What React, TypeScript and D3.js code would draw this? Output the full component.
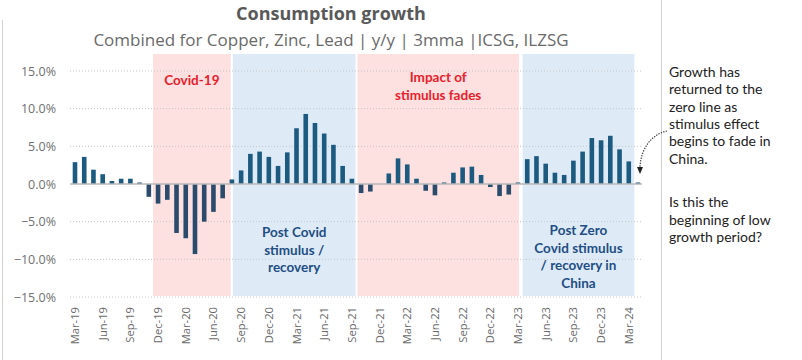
import { useEffect, useRef } from "react";
import * as d3 from "d3";

// monthly consumption growth, y/y %, 3mma
const months = [
  "Mar-19", "Apr-19", "May-19", "Jun-19", "Jul-19", "Aug-19", "Sep-19", "Oct-19", "Nov-19", "Dec-19",
  "Jan-20", "Feb-20", "Mar-20", "Apr-20", "May-20", "Jun-20", "Jul-20", "Aug-20", "Sep-20", "Oct-20",
  "Nov-20", "Dec-20", "Jan-21", "Feb-21", "Mar-21", "Apr-21", "May-21", "Jun-21", "Jul-21", "Aug-21",
  "Sep-21", "Oct-21", "Nov-21", "Dec-21", "Jan-22", "Feb-22", "Mar-22", "Apr-22", "May-22", "Jun-22",
  "Jul-22", "Aug-22", "Sep-22", "Oct-22", "Nov-22", "Dec-22", "Jan-23", "Feb-23", "Mar-23", "Apr-23",
  "May-23", "Jun-23", "Jul-23", "Aug-23", "Sep-23", "Oct-23", "Nov-23", "Dec-23", "Jan-24", "Feb-24",
  "Mar-24", "Apr-24",
];

const growth = [
  2.9, 3.6, 1.9, 1.3, 0.4, 0.7, 0.7, 0.2, -1.7, -2.6,
  -2.1, -6.5, -7.2, -9.3, -5.0, -3.7, -1.9, 0.6, 1.8, 4.0,
  4.3, 3.6, 2.4, 4.2, 7.4, 9.3, 8.1, 6.7, 5.2, 2.4,
  0.7, -1.2, -1.0, 0.0, 1.4, 3.4, 2.6, 0.7, -0.9, -1.5,
  0.2, 1.5, 2.2, 2.3, 1.2, -0.4, -1.6, -1.4, 0.2, 3.3,
  3.7, 2.7, 1.5, 1.2, 3.1, 4.3, 6.1, 5.8, 6.4, 4.6,
  3.0, 0.2,
];

const tickLabels = [
  "Mar-19", "Jun-19", "Sep-19", "Dec-19", "Mar-20", "Jun-20", "Sep-20", "Dec-20", "Mar-21",
  "Jun-21", "Sep-21", "Dec-21", "Mar-22", "Jun-22", "Sep-22", "Dec-22", "Mar-23", "Jun-23",
  "Sep-23", "Dec-23", "Mar-24",
];

const yTicks = [-15, -10, -5, 0, 5, 10, 15];

// shaded periods, in month-index units
const periodKinds = ["covid", "recovery", "fade", "china"];
const periodFrom = [8.45, 17.1, 30.6, 48.5];
const periodTo = [16.87, 30.4, 48.1, 60.6];
const periodLabels = [
  ["Covid-19"],
  ["Post Covid", "stimulus /", "recovery"],
  ["Impact of", "stimulus fades"],
  ["Post Zero", "Covid stimulus", "/ recovery in", "China"],
];

const noteLines = [
  "Growth has", "returned to the", "zero line as", "stimulus effect",
  "begins to fade in", "China.",
];
const noteLines2 = ["Is this the", "beginning of low", "growth period?"];

const W = 802;
const H = 360;

export default function App() {
  const svgRef = useRef<SVGSVGElement>(null);

  useEffect(() => {
    if (!svgRef.current) return;
    const svg = d3.select(svgRef.current);
    svg.selectAll("*").remove();

    const gridL = 70;
    const gridR = 642;

    const xi = d3.scaleLinear().domain([0, months.length - 1]).range([75, 638]);
    const x = d3.scalePoint<string>().domain(months).range([75, 638]);
    const y = d3.scaleLinear().domain([-15, 15]).range([297, 71]);
    const barW = 4.6;

    const fill: Record<string, string> = {
      covid: "#fde0e0",
      fade: "#fde0e0",
      recovery: "#deebf7",
      china: "#deebf7",
    };

    // shaded bands
    periodKinds.forEach((k, i) => {
      svg
        .append("rect")
        .attr("x", xi(periodFrom[i]))
        .attr("width", xi(periodTo[i]) - xi(periodFrom[i]))
        .attr("y", y(15) - 17)
        .attr("height", y(-15) - y(15) + 16)
        .attr("fill", fill[k]);
    });

    // grid
    svg
      .append("g")
      .selectAll("line")
      .data(yTicks.filter((d) => d !== 0))
      .enter()
      .append("line")
      .attr("x1", gridL)
      .attr("x2", gridR)
      .attr("y1", (d) => y(d))
      .attr("y2", (d) => y(d))
      .attr("stroke", "#c4c4c4")
      .attr("stroke-width", 1)
      .attr("stroke-dasharray", "1,2");

    // y labels
    svg
      .append("g")
      .selectAll("text")
      .data(yTicks)
      .enter()
      .append("text")
      .attr("x", 56)
      .attr("y", (d) => y(d) + 4.5)
      .attr("text-anchor", "end")
      .attr("font-family", "'Open Sans', sans-serif")
      .attr("font-size", 12.5)
      .attr("fill", "#707070")
      .text((d) => d3.format(".1f")(d) + "%");

    // bars
    svg
      .append("g")
      .selectAll("rect")
      .data(growth)
      .enter()
      .append("rect")
      .attr("x", (_, i) => (x(months[i]) ?? 0) - barW / 2)
      .attr("width", barW)
      .attr("y", (d) => y(Math.max(0, d)))
      .attr("height", (d) => Math.abs(y(d) - y(0)))
      .attr("fill", (d) => (d >= 0 ? "#1c5a80" : "#2a4b6b"));

    // zero line
    svg
      .append("line")
      .attr("x1", gridL)
      .attr("x2", gridR)
      .attr("y1", y(0))
      .attr("y2", y(0))
      .attr("stroke", "#b8b8b8")
      .attr("stroke-width", 1.5);

    // x labels
    svg
      .append("g")
      .selectAll("text")
      .data(tickLabels)
      .enter()
      .append("text")
      .attr("transform", (d) => `translate(${(x(d) ?? 0) + 4},307) rotate(-90)`)
      .attr("text-anchor", "end")
      .attr("font-family", "'Open Sans', sans-serif")
      .attr("font-size", 11.2)
      .attr("fill", "#6a6a6a")
      .text((d) => d);

    // period labels
    const labelStyle: Record<string, { color: string; y0: number }> = {
      covid: { color: "#e8202a", y0: 85 },
      fade: { color: "#e8202a", y0: 82 },
      recovery: { color: "#1f4e84", y0: 237 },
      china: { color: "#1f4e84", y0: 235 },
    };
    periodKinds.forEach((k, i) => {
      const cx = (xi(periodFrom[i]) + xi(periodTo[i])) / 2;
      const t = svg
        .append("text")
        .attr("text-anchor", "middle")
        .attr("font-family", "Lato, sans-serif")
        .attr("font-weight", "bold")
        .attr("font-size", 13.5)
        .attr("fill", labelStyle[k].color);
      periodLabels[i].forEach((line, j) => {
        t.append("tspan")
          .attr("x", cx)
          .attr("y", labelStyle[k].y0 + j * 17.6)
          .text(line);
      });
    });

    // title
    svg
      .append("text")
      .attr("x", 331)
      .attr("y", 19.5)
      .attr("text-anchor", "middle")
      .attr("font-family", "'Open Sans', sans-serif")
      .attr("font-weight", "bold")
      .attr("font-size", 18)
      .attr("fill", "#595959")
      .text("Consumption growth");

    svg
      .append("text")
      .attr("x", 331)
      .attr("y", 46)
      .attr("text-anchor", "middle")
      .attr("font-family", "'Open Sans', sans-serif")
      .attr("font-size", 17)
      .attr("fill", "#6a6a6a")
      .text("Combined for Copper, Zinc, Lead | y/y | 3mma |ICSG, ILZSG");

    // side frame lines
    svg
      .append("line")
      .attr("x1", 2.5)
      .attr("x2", 2.5)
      .attr("y1", 20)
      .attr("y2", H)
      .attr("stroke", "#d0d0d0");
    svg
      .append("line")
      .attr("x1", 661.5)
      .attr("x2", 661.5)
      .attr("y1", 0)
      .attr("y2", H)
      .attr("stroke", "#d0d0d0");

    // note text
    const note = svg
      .append("text")
      .attr("font-family", "Lato, sans-serif")
      .attr("font-size", 14)
      .attr("fill", "#222");
    noteLines.forEach((line, j) => {
      note.append("tspan").attr("x", 669).attr("y", 77 + j * 17.3).text(line);
    });
    noteLines2.forEach((line, j) => {
      note.append("tspan").attr("x", 669).attr("y", 207 + j * 17.6).text(line);
    });

    // dotted arrow
    svg
      .append("path")
      .attr("d", "M667,131 C652,134 641,148 640,167")
      .attr("fill", "none")
      .attr("stroke", "#333")
      .attr("stroke-width", 1.2)
      .attr("stroke-dasharray", "1.3,1.3");
    svg
      .append("path")
      .attr("d", "M637,167 L643,167 L640,174 Z")
      .attr("fill", "#222");
  }, []);

  return (
    <svg
      ref={svgRef}
      width={W}
      height={H}
      style={{ position: "absolute", left: 0, top: 0, background: "#fff" }}
    />
  );
}
